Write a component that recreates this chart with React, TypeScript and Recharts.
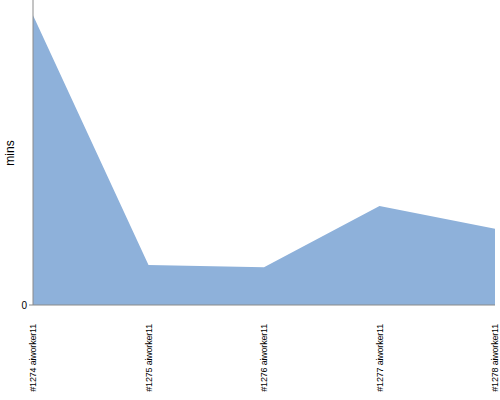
import React from "react";
import { AreaChart, Area, XAxis, YAxis } from "recharts";

const builds = ["#1274 aiworker11", "#1275 aiworker11", "#1276 aiworker11", "#1277 aiworker11", "#1278 aiworker11"];
const mins = [95, 13.1, 12.4, 32.5, 25];

const data = builds.map((name, i) => ({ name, mins: mins[i] }));

const font = "Liberation Sans, Arial, sans-serif";

const BuildTick = (props: any) => {
  const { x, y, payload } = props;
  return (
    <g transform={`translate(${x},${y})`}>
      <text
        transform="rotate(-90)"
        x={-(322 - 305 - 6)}
        y={0}
        dy="0.35em"
        textAnchor="end"
        fontSize={9}
        fontFamily={font}
        letterSpacing={-0.2}
        fill="#000"
      >
        {payload.value}
      </text>
    </g>
  );
};

const MinsLabel = () => (
  <text
    transform="translate(14,153) rotate(-90)"
    textAnchor="middle"
    fontSize={12}
    fontFamily={font}
    fill="#000"
  >
    mins
  </text>
);

export default function App() {
  return (
    <div style={{ position: "absolute", left: 0, top: 0 }}>
      <AreaChart width={500} height={400} data={data} margin={{ top: 0, right: 5, bottom: 0, left: 0 }}>
        <XAxis
          dataKey="name"
          height={95}
          stroke="#8a8a8a"
          tickLine={false}
          tickSize={6}
          interval={0}
          tick={<BuildTick />}
        />
        <YAxis
          width={33}
          domain={[0, 100]}
          ticks={[0]}
          stroke="#8a8a8a"
          tickSize={4}
          tick={{ fill: "#000", fontSize: 10, fontFamily: font }}
          label={<MinsLabel />}
        />
        <Area
          type="linear"
          dataKey="mins"
          stroke="none"
          fill="#8eb1da"
          fillOpacity={1}
          isAnimationActive={false}
        />
      </AreaChart>
    </div>
  );
}
